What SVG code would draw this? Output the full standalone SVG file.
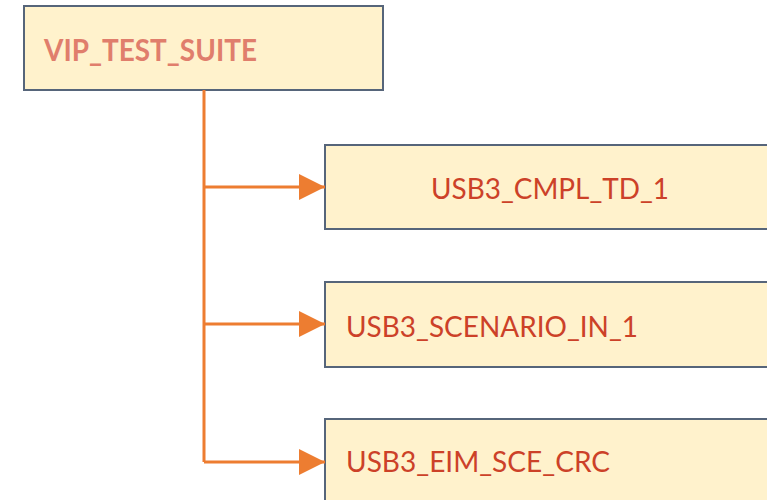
<svg xmlns="http://www.w3.org/2000/svg" width="767" height="500" viewBox="0 0 767 500">
  <style>
    .box { fill: #FFF2CC; stroke: #56657A; stroke-width: 2; }
    .root { font-family: Lato, "Liberation Sans", sans-serif; font-weight: bold; font-size: 31px; fill: #E07E6C; }
    .leaf { font-family: Lato, "Liberation Sans", sans-serif; font-size: 28px; fill: #CC4128; }
    .link { fill: none; stroke: #ED7D31; stroke-width: 3; }
  </style>
  <defs>
    <marker id="arrow" markerUnits="userSpaceOnUse" markerWidth="26" markerHeight="26" refX="26" refY="13" orient="auto">
      <path d="M0,0 L26,13 L0,26 Z" fill="#ED7D31"/>
    </marker>
  </defs>

  <g id="vip_test_suite">
    <rect class="box" x="24" y="6" width="359" height="84"/>
    <text class="root" x="44" y="61" textLength="213" lengthAdjust="spacingAndGlyphs">VIP_TEST_SUITE</text>
  </g>

  <g id="usb3_cmpl_td_1">
    <rect class="box" x="325" y="145" width="460" height="84"/>
    <text class="leaf" x="431" y="199" textLength="238" lengthAdjust="spacingAndGlyphs">USB3_CMPL_TD_1</text>
  </g>

  <g id="usb3_scenario_in_1">
    <rect class="box" x="325" y="282" width="460" height="85"/>
    <text class="leaf" x="346" y="337" textLength="292" lengthAdjust="spacingAndGlyphs">USB3_SCENARIO_IN_1</text>
  </g>

  <g id="usb3_eim_sce_crc">
    <rect class="box" x="325" y="419" width="460" height="100"/>
    <text class="leaf" x="346" y="472" textLength="264" lengthAdjust="spacingAndGlyphs">USB3_EIM_SCE_CRC</text>
  </g>

  <g id="connectors">
    <path class="link" d="M204,90 V462"/>
    <path class="link" d="M204,187 H325" marker-end="url(#arrow)"/>
    <path class="link" d="M204,324 H325" marker-end="url(#arrow)"/>
    <path class="link" d="M204,462 H325" marker-end="url(#arrow)"/>
  </g>
</svg>
